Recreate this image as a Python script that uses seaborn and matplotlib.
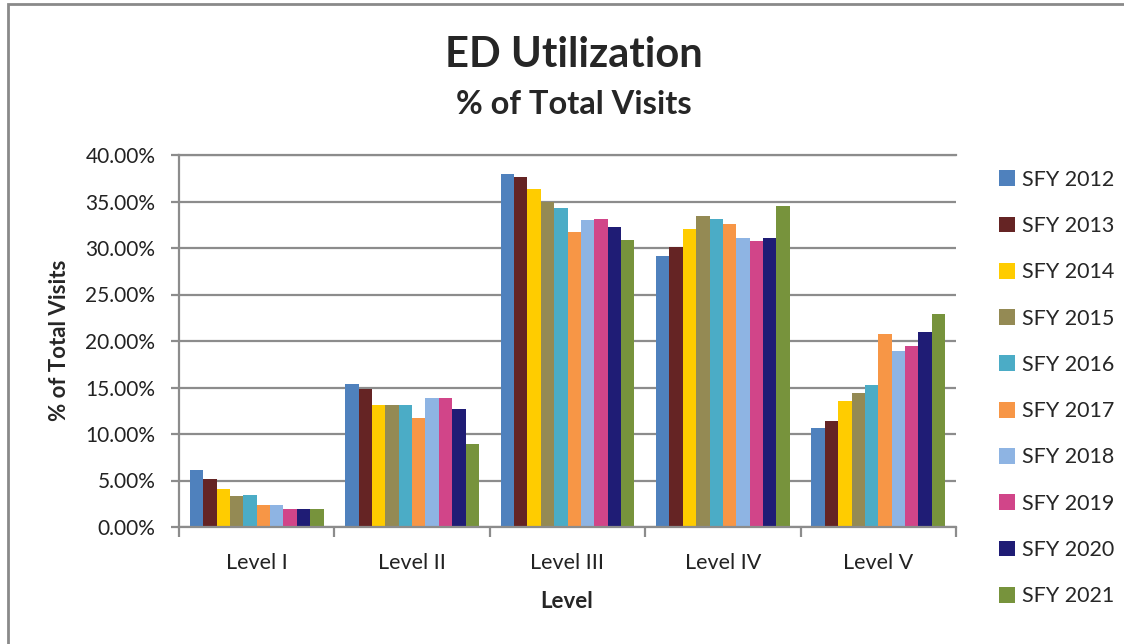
import matplotlib
matplotlib.use('Agg')
import matplotlib.pyplot as plt
from matplotlib.patches import Patch, Rectangle
from matplotlib.ticker import FuncFormatter, FixedLocator
import seaborn as sns
import pandas as pd

# ------------------------------------------------------------
# DATA  (% of total ED visits by level)
# ------------------------------------------------------------
levels = ['Level I', 'Level II', 'Level III', 'Level IV', 'Level V']
years = ['SFY 2012', 'SFY 2013', 'SFY 2014', 'SFY 2015', 'SFY 2016',
         'SFY 2017', 'SFY 2018', 'SFY 2019', 'SFY 2020', 'SFY 2021']

level_1 = [6.1, 5.2, 4.1, 3.3, 3.4, 2.4, 2.4, 1.9, 1.9, 1.9]
level_2 = [15.4, 14.8, 13.1, 13.1, 13.1, 11.7, 13.9, 13.9, 12.7, 8.9]
level_3 = [38.0, 37.6, 36.3, 34.9, 34.3, 31.7, 33.0, 33.1, 32.3, 30.9]
level_4 = [29.1, 30.1, 32.0, 33.4, 33.1, 32.6, 31.1, 30.8, 31.1, 34.5]
level_5 = [10.6, 11.4, 13.6, 14.4, 15.3, 20.7, 18.9, 19.5, 21.0, 22.9]

colors = ['#4F81BD', '#652424', '#FFCC00', '#948A54', '#4BACC6',
          '#F79646', '#8EB4E3', '#D14589', '#1F1C75', '#77933C']

rows = []
for lvl, vals in zip(levels, [level_1, level_2, level_3, level_4, level_5]):
    for yr, v in zip(years, vals):
        rows.append({'Level': lvl, 'Year': yr, 'Pct': v})
df = pd.DataFrame(rows)

# ------------------------------------------------------------
# FIGURE
# ------------------------------------------------------------
sns.set_style('white')
plt.rcParams['font.family'] = ['Lato', 'DejaVu Sans']
GRAY = '#8C8C8C'

fig = plt.figure(figsize=(11.24, 6.44), dpi=100)
ax = fig.add_axes([179 / 1124, 1 - 527 / 644, (956 - 179) / 1124, (527 - 155) / 644])

sns.barplot(data=df, x='Level', y='Pct', hue='Year', palette=colors,
            width=0.86, gap=0, saturation=1, linewidth=0, ax=ax, legend=False)

ax.set_ylim(0, 40)
ax.set_xlim(-0.5, len(levels) - 0.5)
ax.yaxis.set_major_locator(FixedLocator([0, 5, 10, 15, 20, 25, 30, 35, 40]))
ax.yaxis.set_major_formatter(FuncFormatter(lambda v, p: f'{v:.2f}%'))
ax.yaxis.grid(True, color=GRAY, linewidth=1.6)
ax.set_axisbelow(True)

for side in ['left', 'bottom', 'top']:
    ax.spines[side].set_color(GRAY)
    ax.spines[side].set_linewidth(1.6)
ax.spines['right'].set_visible(False)

ax.tick_params(axis='y', which='major', direction='out', length=6, width=1.6,
               color=GRAY, pad=11, labelsize=15, labelcolor='#222222', left=True)
ax.tick_params(axis='x', which='major', length=0, pad=19, labelsize=15.5,
               labelcolor='#222222')
ax.set_xticks([i - 0.5 for i in range(len(levels) + 1)], minor=True)
ax.tick_params(axis='x', which='minor', direction='out', length=7, width=1.6,
               color=GRAY, bottom=True)

ax.set_xlabel('')
ax.set_ylabel('')

fig.text(60 / 1124, 1 - 340 / 644, '% of Total Visits', rotation=90,
         ha='center', va='center', fontsize=16, fontweight='bold')
fig.text(567 / 1124, 1 - 601 / 644, 'Level', ha='center', va='center',
         fontsize=16, fontweight='bold')

fig.text(574 / 1124, 1 - 55 / 644, 'ED Utilization', ha='center', va='center',
         fontsize=30, fontweight='bold')
fig.text(574 / 1124, 1 - 104 / 644, '% of Total Visits', ha='center', va='center',
         fontsize=23.5, fontweight='bold')

# legend on the right
handles = [Patch(facecolor=c, edgecolor='none', label=y) for c, y in zip(colors, years)]
fig.legend(handles=handles, loc='center left',
           bbox_to_anchor=(990 / 1124, 1 - 388 / 644), frameon=False,
           fontsize=15.5, handlelength=0.75, handleheight=0.75,
           handletextpad=0.35, labelspacing=1.22, borderaxespad=0)

# outer chart frame
fig.patches.append(Rectangle((8 / 1124, -0.05), 1.1, 1 - 4 / 644 + 0.05,
                             transform=fig.transFigure, fill=False,
                             edgecolor='#8A8A8A', linewidth=2))

fig.savefig('out.png', dpi=100)
